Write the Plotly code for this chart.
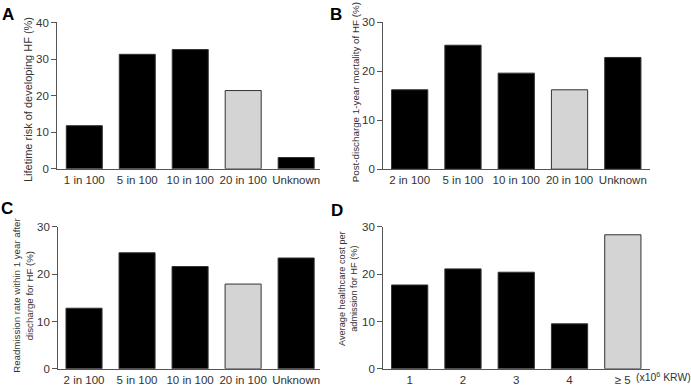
import plotly.graph_objects as go

W, H = 691, 392

cats_a = ["1 in 100", "5 in 100", "10 in 100", "20 in 100", "Unknown"]
vals_a = [11.8, 31.3, 32.6, 21.4, 3.1]
cats_b = ["2 in 100", "5 in 100", "10 in 100", "20 in 100", "Unknown"]
vals_b = [16.2, 25.3, 19.6, 16.2, 22.8]
cats_c = ["2 in 100", "5 in 100", "10 in 100", "20 in 100", "Unknown"]
vals_c = [12.8, 24.5, 21.6, 17.9, 23.4]
cats_d = ["1", "2", "3", "4", "≥ 5"]
vals_d = [17.7, 21.1, 20.4, 9.5, 28.3]
highlight = [3, 3, 3, 4]  # index of grey bar per panel

ytitles = [
    "Lifetime risk of developing HF (%)",
    "Post-discharge 1-year mortality of HF (%)",
    "Readmission rate within 1 year after<br>discharge for HF (%)",
    "Average healthcare cost per<br>admission for HF (%)",
]
letters = ["A", "B", "C", "D"]
yranges = [[0, 40], [0, 30], [0, 30], [0, 30]]

FONT = "Liberation Sans, Arial, sans-serif"


def px_x(p):
    return p / W


def px_y(p):
    return 1 - p / H


# panel geometry in pixels: (x0, x1, ytop, ybottom)
geo = [
    (57.3, 320, 17, 168),
    (383.3, 650, 16.7, 168.3),
    (58.3, 320, 227.7, 374.3),
    (383.3, 650, 227.7, 374.3),
]
xranges = [[-0.51, 4.45], [-0.495, 4.51], [-0.485, 4.45], [-0.495, 4.51]]
title_pos = [(28, 97), (355, 89), (23, 299), (348, 292)]
title_size = [11, 9.8, 9.7, 9.2]
letter_pos = [(8, 9), (336, 9), (7, 209), (337, 211)]

fig = go.Figure()
data = [(cats_a, vals_a), (cats_b, vals_b), (cats_c, vals_c), (cats_d, vals_d)]
annotations = []
for i, (cats, vals) in enumerate(data):
    n = i + 1
    xa = "x" if n == 1 else f"x{n}"
    ya = "y" if n == 1 else f"y{n}"
    colors = ["#d4d4d4" if j == highlight[i] else "#000000" for j in range(len(cats))]
    fig.add_trace(go.Bar(
        x=cats, y=vals, xaxis=xa, yaxis=ya, width=0.68,
        marker=dict(color=colors, line=dict(color="#333333", width=1)),
        showlegend=False, hoverinfo="x+y",
    ))
    x0, x1, yt, yb = geo[i]
    axis_x = dict(
        domain=[px_x(x0), px_x(x1)], anchor=ya, range=xranges[i],
        showline=True, linecolor="#555555", linewidth=1.3, ticks="",
        showgrid=False, zeroline=False,
        tickfont=dict(family=FONT, size=11.5, color="#333333"),
        fixedrange=True,
    )
    axis_y = dict(
        domain=[px_y(yb), px_y(yt)], anchor=xa, range=yranges[i],
        showline=True, linecolor="#555555", linewidth=1.3, ticks="outside",
        ticklen=5, tickcolor="#555555", tickwidth=1.3, dtick=10,
        showgrid=False, zeroline=False,
        tickfont=dict(family=FONT, size=11.5, color="#333333"),
        fixedrange=True,
    )
    fig.update_layout(**{("xaxis" if n == 1 else f"xaxis{n}"): axis_x,
                         ("yaxis" if n == 1 else f"yaxis{n}"): axis_y})
    tx, ty = title_pos[i]
    annotations.append(dict(
        text=ytitles[i], xref="paper", yref="paper", x=px_x(tx), y=px_y(ty),
        xanchor="center", yanchor="middle", textangle=-90, showarrow=False,
        font=dict(family=FONT, size=title_size[i], color="#333333"),
    ))
    lx, ly = letter_pos[i]
    annotations.append(dict(
        text=f"<b>{letters[i]}</b>", xref="paper", yref="paper", x=px_x(lx), y=px_y(ly),
        xanchor="center", yanchor="middle", showarrow=False,
        font=dict(family=FONT, size=17, color="#000000"),
    ))

annotations.append(dict(
    text="(x10<sup>6</sup> KRW)", xref="paper", yref="paper", x=px_x(634), y=px_y(382),
    xanchor="left", yanchor="middle", showarrow=False,
    font=dict(family=FONT, size=10.4, color="#333333"),
))

fig.update_layout(
    width=W, height=H, margin=dict(l=0, r=0, t=0, b=0),
    paper_bgcolor="white", plot_bgcolor="white",
    annotations=annotations, bargap=0.3,
)

fig.write_html(
    "out.html",
    config={"displayModeBar": False},
    post_script="document.body.style.margin='0';document.body.style.overflow='hidden';",
)
